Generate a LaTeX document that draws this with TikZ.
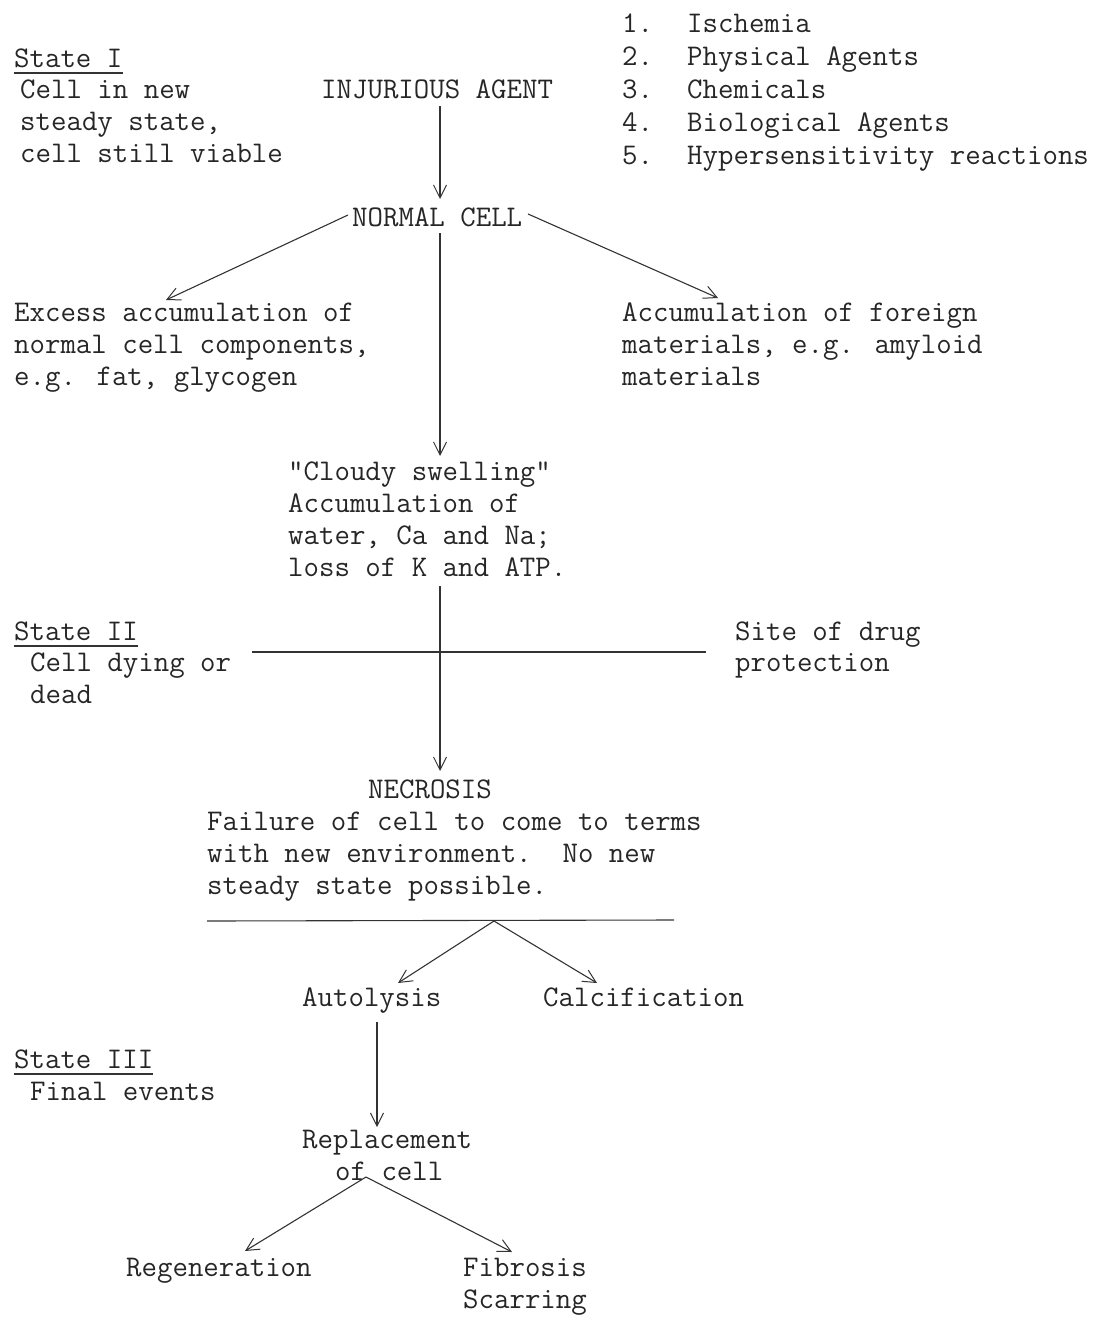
\documentclass[tikz,border=0pt]{standalone}
\usetikzlibrary{arrows.meta}
\begin{document}
\begin{tikzpicture}[x=1pt,y=-1pt,
  txt/.style={anchor=base west,inner sep=0pt,font=\fontsize{30}{32}\selectfont\ttfamily,text=black!85},
  conn/.style={line width=1.1pt,draw=black!80},
  arr/.style={conn,-{Straight Barb[length=13pt,width=13pt,line width=1pt]}}]
\useasboundingbox (0,0) rectangle (1103,1325);
% numbered list
\foreach \n/\t/\y in {1/Ischemia/32,2/Physical Agents/65,3/Chemicals/98,4/Biological Agents/131,5/Hypersensitivity reactions/164}{
  \node[txt] (num\n) at (622,\y) {\n.};
  \node[txt] (item\n) at (687,\y) {\t};
}
% State I
\node[txt] (s1) at (14,67) {State I};
\draw[conn] ([yshift=-6pt]s1.base west) -- ([yshift=-6pt]s1.base east);
\node[txt] (s1a) at (20,98) {Cell in new};
\node[txt] (s1b) at (20,130) {steady state,};
\node[txt] (s1c) at (20,162) {cell still viable};
% top chain
\node[txt] (inj) at (321,98) {INJURIOUS AGENT};
\node[txt] (nc) at (352,226) {NORMAL CELL};
\coordinate (injb) at (440,106);
\coordinate (nct) at (440,199);
\draw[arr] (injb) -- (nct);
% left / right branches
\coordinate (ncl) at (348,215);
\coordinate (ncr) at (528,214);
\coordinate (exct) at (166,300);
\coordinate (acct) at (718,298);
\draw[arr] (ncl) -- (exct);
\draw[arr] (ncr) -- (acct);
\node[txt] (ex1) at (14,321) {Excess accumulation of};
\node[txt] (ex2) at (14,353) {normal cell components,};
\node[txt] (ex3) at (14,385) {e.g. fat, glycogen};
\node[txt] (fo1) at (622,321) {Accumulation of foreign};
\node[txt] (fo2) at (622,353) {materials, e.g. amyloid};
\node[txt] (fo3) at (622,385) {materials};
% centre
\coordinate (ncb) at (440,233);
\coordinate (cst) at (440,456);
\draw[arr] (ncb) -- (cst);
\node[txt] (cs1) at (288,480) {"Cloudy swelling"};
\node[txt] (cs2) at (288,512) {Accumulation of};
\node[txt] (cs3) at (288,544) {water, Ca and Na;};
\node[txt] (cs4) at (288,576) {loss of K and ATP.};
\coordinate (csb) at (440,586);
\coordinate (nect) at (440,771);
\draw[arr] (csb) -- (nect);
% drug protection line
\coordinate (dl) at (252,652);
\coordinate (dr) at (706,652);
\draw[conn] (dl) -- (dr);
\node[txt] (s2) at (14,640) {State II};
\draw[conn] ([yshift=-6pt]s2.base west) -- ([yshift=-6pt]s2.base east);
\node[txt] (s2a) at (30,671) {Cell dying or};
\node[txt] (s2b) at (30,703) {dead};
\node[txt] (sd1) at (735,640) {Site of drug};
\node[txt] (sd2) at (735,671) {protection};
% necrosis
\node[txt] (nec) at (368,798) {NECROSIS};
\node[txt] (nf1) at (207,830) {Failure of cell to come to terms};
\node[txt] (nf2) at (207,862) {with new environment.\ \ No new};
\node[txt] (nf3) at (207,894) {steady state possible.};
\coordinate (hl) at (207,921);
\coordinate (hr) at (674,920);
\draw[conn] (hl) -- (hr);
\coordinate (hm) at (494,921);
\coordinate (autt) at (398,983);
\coordinate (calt) at (597,983);
\draw[arr] (hm) -- (autt);
\draw[arr] (hm) -- (calt);
\node[txt] (aut) at (302,1006) {Autolysis};
\node[txt] (cal) at (543,1006) {Calcification};
% State III
\node[txt] (s3) at (14,1068) {State III};
\draw[conn] ([yshift=-6pt]s3.base west) -- ([yshift=-6pt]s3.base east);
\node[txt] (s3a) at (30,1100) {Final events};
\coordinate (autb) at (377,1022);
\coordinate (rept) at (377,1127);
\draw[arr] (autb) -- (rept);
\node[txt] (rep1) at (302,1148) {Replacement};
\node[txt] (rep2) at (335,1180) {of cell};
\coordinate (repb) at (366,1177);
\coordinate (regt) at (245,1251);
\coordinate (fibt) at (512,1252);
\draw[arr] (repb) -- (regt);
\draw[arr] (repb) -- (fibt);
\node[txt] (reg) at (126,1276) {Regeneration};
\node[txt] (fib1) at (463,1276) {Fibrosis};
\node[txt] (fib2) at (463,1308) {Scarring};
\end{tikzpicture}
\end{document}
